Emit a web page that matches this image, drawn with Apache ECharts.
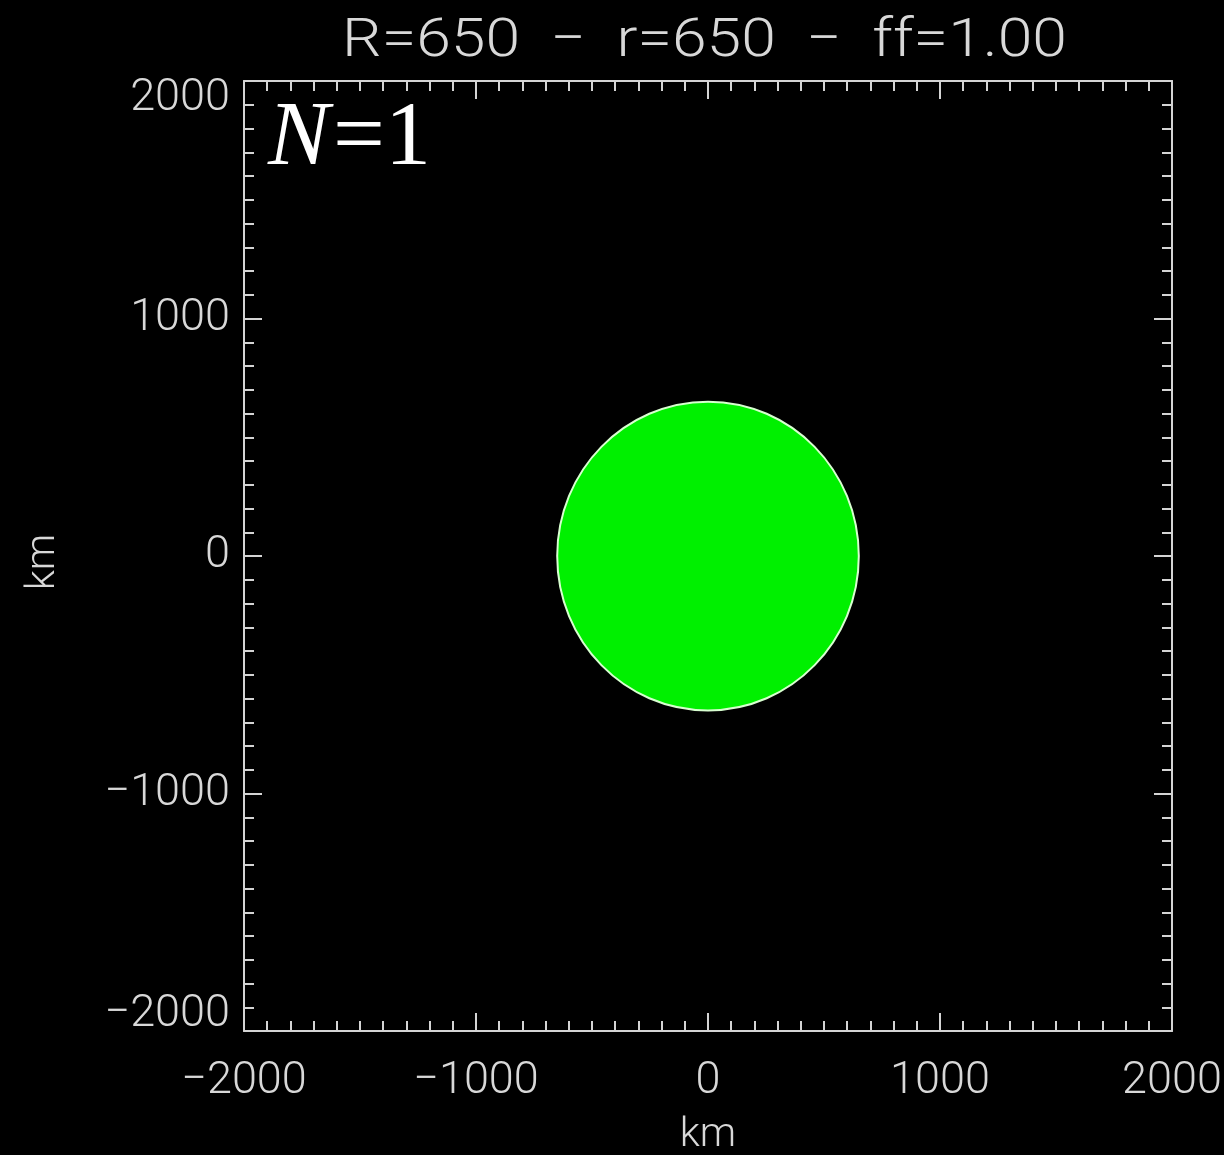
<!DOCTYPE html>
<html>
<head>
<meta charset="utf-8">
<script src="https://cdn.jsdelivr.net/npm/echarts@6/dist/echarts.min.js"></script>
<style>
html,body{margin:0;padding:0;background:#000;}
#chart{width:1224px;height:1155px;}
</style>
</head>
<body>
<div id="chart"></div>
<script>
// ---- data ----
const axisMin = -2000;
const axisMax = 2000;
const axisInterval = 1000;
const axisName = 'km';
// circles: [x centre (km), y centre (km), radius (km)]
const circles = [[0, 0, 650]];
const titleText = 'R=650  \u2212  r=650  \u2212  ff=1.00';
const panelVar = 'N';
const panelValue = '=1';

const chart = echarts.init(document.getElementById('chart'), null, {renderer: 'canvas'});

const lineColor = '#d4d4d4';
const labelFont = {color: '#d8d8d8', fontFamily: 'Roboto', fontWeight: 300, fontSize: 45};
const nameFont = {color: '#d8d8d8', fontFamily: 'Roboto', fontWeight: 300, fontSize: 41};
const fmt = v => String(v).replace('-', '\u2212');

function axisCommon(extra) {
  return Object.assign({
    type: 'value', min: axisMin, max: axisMax, interval: axisInterval,
    axisLine: {show: true, onZero: false, lineStyle: {color: lineColor, width: 2}},
    axisTick: {show: true, inside: true, length: 18, lineStyle: {color: lineColor, width: 2}},
    minorTick: {show: true, splitNumber: 10, length: 10, lineStyle: {color: lineColor, width: 2}},
    splitLine: {show: false},
    minorSplitLine: {show: false}
  }, extra);
}

const yLabelRich = {
  top: Object.assign({padding: [36, 0, 0, 0]}, labelFont),
  bot: Object.assign({padding: [0, 0, 32, 0]}, labelFont),
  mid: Object.assign({}, labelFont)
};
function yFmt(v) {
  const s = fmt(v);
  if (v === axisMax) return '{top|' + s + '}';
  if (v === axisMin) return '{bot|' + s + '}';
  return '{mid|' + s + '}';
}

const serif = 'Liberation Serif';

chart.setOption({
  backgroundColor: '#000',
  animation: false,
  graphic: [{
    type: 'text', x: 342, y: 15, scaleX: 1.2, scaleY: 1.04,
    style: {text: titleText, fill: '#d8d8d8', fontFamily: 'Roboto', fontWeight: 300, fontSize: 52}
  }, {
    type: 'text', x: 268, y: 94,
    style: {text: panelVar, fill: '#fff', fontFamily: serif, fontStyle: 'italic', fontSize: 92,
      verticalAlign: 'top'}
  }, {
    type: 'text', x: 333, y: 94,
    style: {text: panelValue, fill: '#fff', fontFamily: serif, fontSize: 92,
      verticalAlign: 'top'}
  }],
  grid: {left: 244, right: 52, top: 81, bottom: 124, containLabel: false, outerBoundsMode: 'none'},
  xAxis: [
    axisCommon({position: 'bottom', name: axisName, nameLocation: 'middle', nameGap: 84,
      nameTextStyle: nameFont,
      axisLabel: Object.assign({margin: 28, formatter: fmt}, labelFont)}),
    axisCommon({position: 'top', axisLabel: {show: false}})
  ],
  yAxis: [
    axisCommon({position: 'left', name: axisName, nameLocation: 'middle', nameGap: 180,
      nameTextStyle: Object.assign({padding: [0, 12, 0, 0]}, nameFont),
      axisLabel: Object.assign({margin: 14, formatter: yFmt, rich: yLabelRich}, labelFont)}),
    axisCommon({position: 'right', axisLabel: {show: false}})
  ],
  series: [{
    type: 'custom',
    xAxisIndex: 0, yAxisIndex: 0,
    data: circles,
    renderItem: function (params, api) {
      const c = api.coord([api.value(0), api.value(1)]);
      const s = api.size([api.value(2), api.value(2)]);
      return {
        type: 'ellipse',
        shape: {cx: c[0], cy: c[1], rx: s[0], ry: s[1]},
        style: {fill: '#00f000', stroke: '#d8ffd0', lineWidth: 2}
      };
    }
  }]
});
</script>
</body>
</html>
